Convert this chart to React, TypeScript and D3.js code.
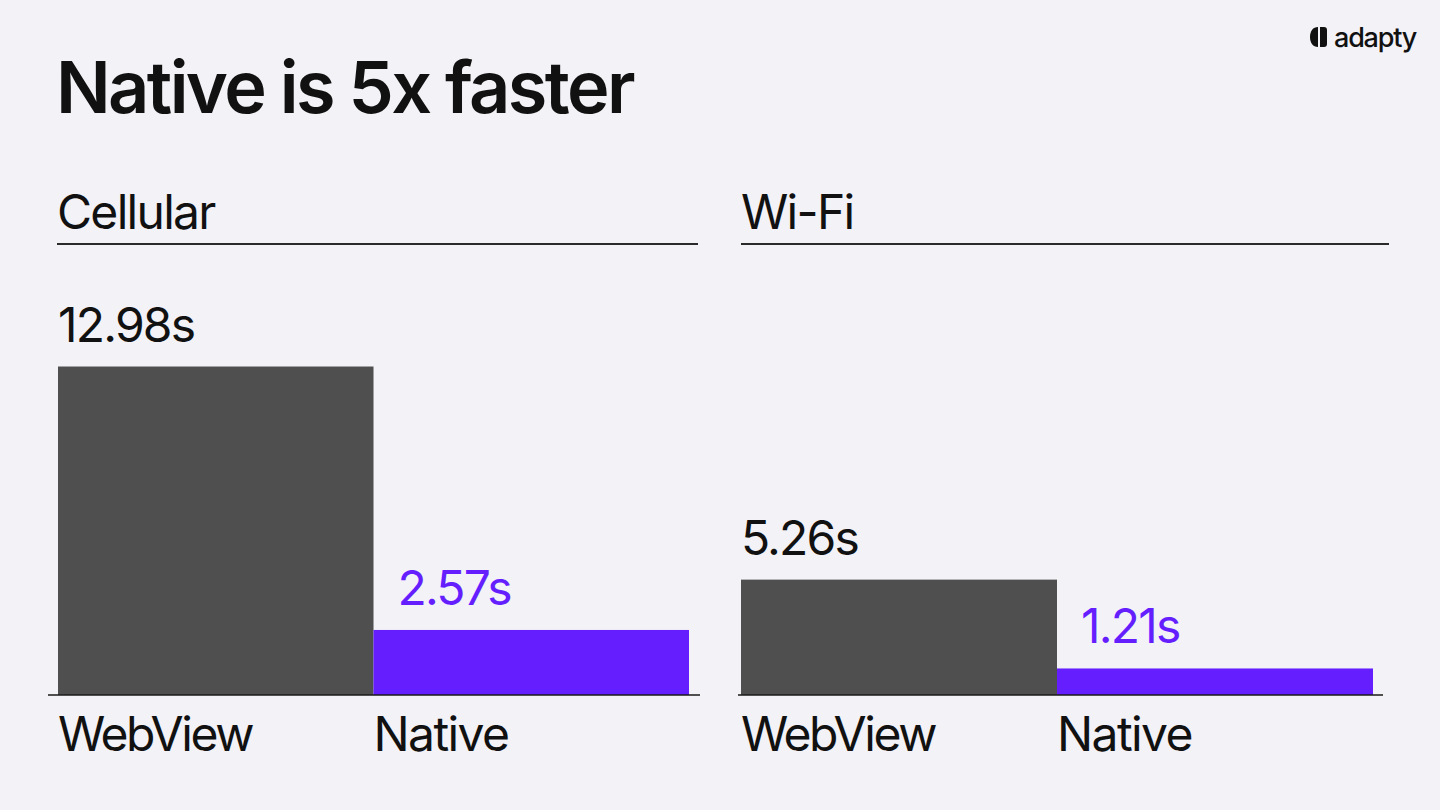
import React from "react";
import * as d3 from "d3";

const TITLE = "Native is 5x faster";
const categories = ["WebView", "Native"];
const panelTitles = ["Cellular", "Wi-Fi"];
const cellularValues = [12.98, 2.57];
const wifiValues = [5.26, 1.21];
const valueLabels = [["12.98s", "2.57s"], ["5.26s", "1.21s"]];
const domainMax = [13, 15];

const BG = "#f3f2f7";
const GRAY = "#4f4f4f";
const PURPLE = "#651fff";
const INK = "#111111";
const FONT = "Inter, 'Noto Sans', sans-serif";

const panels = [
  { x0: 58, x1: 689, axis0: 48, axis1: 700, rule0: 57, rule1: 698, values: cellularValues },
  { x0: 741, x1: 1373, axis0: 738, axis1: 1383, rule0: 741, rule1: 1389, values: wifiValues },
];

export default function App() {
  const baseY = 695;
  const topY = 366;
  return (
    <div style={{ position: "fixed", left: 0, top: 0, width: 1440, height: 810 }}>
      <svg width={1440} height={810} style={{ display: "block" }}>
        <rect x={0} y={0} width={1440} height={810} fill={BG} />
        <text x={56} y={113} fontFamily={FONT} fontSize={72} fontWeight={600} fill={INK} letterSpacing={-2.6}>
          {TITLE}
        </text>
        {/* logo */}
        <g>
          <path d="M1318 27 C1313 27 1310 31 1310 37 C1310 43 1313 47 1318 47 L1318 27 Z" fill={INK} />
          <path d="M1320 27 L1324 27 C1326 27 1327 28 1327 30 L1327 44 C1327 46 1326 47 1324 47 L1320 47 Z" fill={INK} />
          <text x={1334} y={47} fontFamily={FONT} fontSize={27} fontWeight={500} fill={INK} letterSpacing={-1.2}>
            adapty
          </text>
        </g>
        {panels.map((p, pi) => {
          const x = d3.scaleBand<string>().domain(categories).range([p.x0, p.x1]).padding(0);
          const y = d3.scaleLinear().domain([0, domainMax[pi]]).range([baseY, topY]);
          return (
            <g key={pi}>
              <text x={p.rule0} y={229} fontFamily={FONT} fontSize={48} fontWeight={400} fill={INK} letterSpacing={-1.7}>
                {panelTitles[pi]}
              </text>
              <line x1={p.rule0} x2={p.rule1} y1={244} y2={244} stroke="#2a2a2a" strokeWidth={2} />
              {categories.map((c, i) => {
                const v = p.values[i];
                const bx = x(c)!;
                const by = y(v);
                const color = i === 0 ? GRAY : PURPLE;
                return (
                  <g key={c}>
                    <rect x={bx} y={by} width={x.bandwidth()} height={baseY - by} fill={color} />
                    <text
                      x={bx + (i === 0 ? 0 : 24)}
                      y={by - 25}
                      fontFamily={FONT}
                      fontSize={48}
                      fill={i === 0 ? INK : PURPLE}
                      letterSpacing={-1.8}
                    >
                      {valueLabels[pi][i]}
                    </text>
                    <text x={bx} y={751} fontFamily={FONT} fontSize={48} fill={INK} letterSpacing={i === 0 ? -2.4 : -1.6}>
                      {c}
                    </text>
                  </g>
                );
              })}
              <line x1={p.axis0} x2={p.axis1} y1={baseY} y2={baseY} stroke="#1a1a1a" strokeWidth={1.5} />
            </g>
          );
        })}
      </svg>
    </div>
  );
}
